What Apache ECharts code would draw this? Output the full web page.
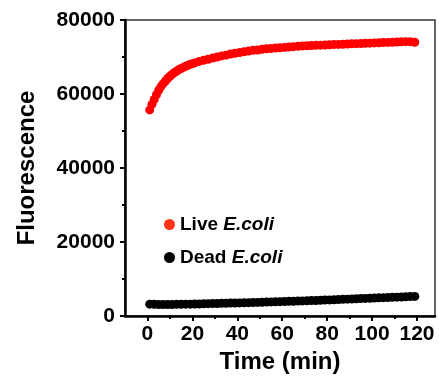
<!DOCTYPE html>
<html>
<head>
<meta charset="utf-8">
<script src="https://cdn.jsdelivr.net/npm/echarts@6/dist/echarts.min.js"></script>
<style>html,body{margin:0;padding:0;background:#fff}#c{width:439px;height:382px}</style>
</head>
<body>
<div id="c"></div>
<script>
var liveTimes = [1,2,3,4,5,6,7,8,9,10,11,12,13,14,15,16,17,18,19,20,21,23,25,27,29,31,33,35,37,39,41,43,45,47,49,51,53,55,57,59,61,63,65,67,69,71,73,75,77,79,81,83,85,87,89,91,93,95,97,99,101,103,105,107,109,111,113,115,117,119];
var liveValues = [55700,57200,58500,59800,61000,62000,62800,63500,64200,64800,65300,65800,66200,66600,66900,67200,67500,67750,68000,68200,68400,68800,69100,69400,69700,70000,70300,70500,70800,71000,71200,71400,71600,71800,71900,72100,72200,72300,72400,72500,72600,72700,72800,72900,73000,73050,73100,73150,73200,73250,73300,73350,73400,73450,73500,73550,73600,73650,73700,73750,73800,73850,73900,73950,74000,74050,74100,74150,74150,74000];
var deadTimes = [1,3,5,7,9,11,13,15,17,19,21,23,25,27,29,31,33,35,37,39,41,43,45,47,49,51,53,55,57,59,61,63,65,67,69,71,73,75,77,79,81,83,85,87,89,91,93,95,97,99,101,103,105,107,109,111,113,115,117,119];
var deadValues = [3200,3150,3100,3100,3100,3100,3150,3150,3200,3200,3250,3250,3300,3330,3360,3390,3420,3450,3480,3510,3540,3570,3600,3640,3680,3720,3760,3800,3840,3880,3920,3960,4000,4040,4080,4120,4160,4200,4250,4300,4350,4400,4450,4500,4550,4600,4650,4700,4750,4800,4850,4900,4950,5000,5050,5100,5150,5200,5250,5300];
var xMajorTicks = [0,20,40,60,80,100,120];
var xMinorTicks = [10,30,50,70,90,110];
var seriesNames = ['Live', 'Dead'];

function pairs(xs, ys){ return xs.map(function(x,i){ return [x, ys[i]]; }); }

var font = 'Liberation Sans, Arial, sans-serif';
var chart = echarts.init(document.getElementById('c'), null, {renderer:'canvas'});
chart.setOption({
  animation: false,
  grid: {left:125, right:4, top:20, bottom:66, show:true, borderColor:'#333', borderWidth:1.5, backgroundColor:'transparent'},
  legend: {
    orient:'vertical', left:159, top:210, itemWidth:11, itemHeight:11, itemGap:14,
    icon:'circle',
    data:[{name:'Live', itemStyle:{color:'#ff3416'}}, {name:'Dead', itemStyle:{color:'#000'}}],
    formatter: function(n){ return '{b|' + n + ' }{i|E.coli}'; },
    textStyle: {
      rich: {
        b:{fontFamily:font, fontWeight:'bold', fontSize:19, color:'#000', lineHeight:23},
        i:{fontFamily:font, fontWeight:'bold', fontStyle:'italic', fontSize:19, color:'#000', lineHeight:23}
      }
    }
  },
  xAxis: [{
    type:'value', min:-10, max:128,
    name:'Time (min)', nameLocation:'middle', nameGap:32,
    nameTextStyle:{fontFamily:font, fontWeight:'bold', fontSize:24, color:'#000'},
    axisLine:{show:true, onZero:false, lineStyle:{color:'#000', width:2.5}},
    axisTick:{show:true, inside:false, length:5, lineStyle:{color:'#000', width:2}, customValues:xMajorTicks},
    axisLabel:{fontFamily:font, fontWeight:'bold', fontSize:21, color:'#000', margin:8, customValues:xMajorTicks, formatter:function(v){return String(v);}},
    splitLine:{show:false}
  },{
    type:'value', min:-10, max:128, position:'bottom',
    axisLine:{show:false, onZero:false},
    axisTick:{show:true, inside:false, length:3, lineStyle:{color:'#000', width:2}, customValues:xMinorTicks},
    axisLabel:{show:false},
    splitLine:{show:false}
  }],
  yAxis: {
    type:'value', min:0, max:80000, interval:20000,
    name:'Fluorescence', nameLocation:'middle', nameGap:86,
    nameTextStyle:{fontFamily:font, fontWeight:'bold', fontSize:24, color:'#000'},
    axisLine:{show:true, onZero:false, lineStyle:{color:'#000', width:2.5}},
    axisTick:{show:true, inside:false, length:5, lineStyle:{color:'#000', width:2}},
    minorTick:{show:true, splitNumber:2, length:3, lineStyle:{color:'#000', width:2}},
    axisLabel:{fontFamily:font, fontWeight:'bold', fontSize:21, color:'#000', margin:10, formatter:function(v){return String(v);}},
    splitLine:{show:false}
  },
  series: [{
    name:seriesNames[0], type:'scatter', symbol:'circle', symbolSize:9,
    itemStyle:{color:'#ff0000', opacity:1},
    data: pairs(liveTimes, liveValues)
  },{
    name:seriesNames[1], type:'scatter', symbol:'circle', symbolSize:9,
    itemStyle:{color:'#000000', opacity:1},
    data: pairs(deadTimes, deadValues)
  }]
});
</script>
</body>
</html>
